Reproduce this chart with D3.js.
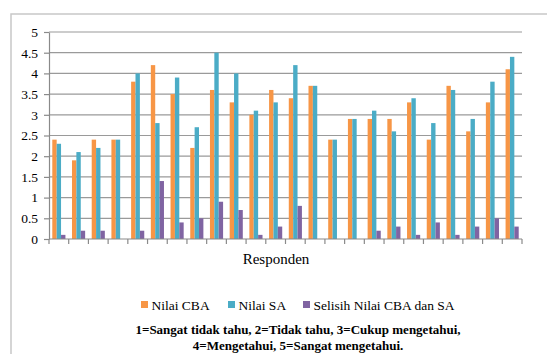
<!DOCTYPE html>
<html>
<head>
<meta charset="utf-8">
<script src="https://cdn.jsdelivr.net/npm/d3@7/dist/d3.min.js"></script>
<style>
  html, body { margin: 0; padding: 0; background: #fff; }
  svg { display: block; }
  text { font-family: "Liberation Serif", "Times New Roman", serif; fill: #000; }
</style>
</head>
<body>
<svg id="chart" width="547" height="354"></svg>
<script>
// Respondent numbers (x categories)
const respondents = d3.range(1, 25);

// Scores per respondent
const nilaiCBA = [2.4, 1.9, 2.4, 2.4, 3.8, 4.2, 3.5, 2.2, 3.6, 3.3, 3.0, 3.6,
                  3.4, 3.7, 2.4, 2.9, 2.9, 2.9, 3.3, 2.4, 3.7, 2.6, 3.3, 4.1];
const nilaiSA  = [2.3, 2.1, 2.2, 2.4, 4.0, 2.8, 3.9, 2.7, 4.5, 4.0, 3.1, 3.3,
                  4.2, 3.7, 2.4, 2.9, 3.1, 2.6, 3.4, 2.8, 3.6, 2.9, 3.8, 4.4];
const selisih  = [0.1, 0.2, 0.2, 0.0, 0.2, 1.4, 0.4, 0.5, 0.9, 0.7, 0.1, 0.3,
                  0.8, 0.0, 0.0, 0.0, 0.2, 0.3, 0.1, 0.4, 0.1, 0.3, 0.5, 0.3];

const seriesNames = ["Nilai CBA", "Nilai SA", "Selisih Nilai CBA dan SA"];
const seriesValues = [nilaiCBA, nilaiSA, selisih];
const seriesColors = ["#F79646", "#4BACC6", "#8064A2"];

const yTicks = d3.range(0, 5.01, 0.5);
const yTickLabels = ["0", "0.5", "1", "1.5", "2", "2.5", "3", "3.5", "4", "4.5", "5"];

const xTitle = "Responden";
const noteLines = [
  "1=Sangat tidak tahu, 2=Tidak tahu, 3=Cukup mengetahui,",
  "4=Mengetahui, 5=Sangat mengetahui."
];

const svg = d3.select("#chart");

// chart frame
svg.append("rect")
  .attr("x", 11).attr("y", 14)
  .attr("width", 560).attr("height", 360)
  .attr("fill", "#fff")
  .attr("stroke", "#c8c8c8").attr("stroke-width", 1.5);

const plot = { left: 49, right: 522, top: 32, bottom: 239 };

const y = d3.scaleLinear().domain([0, 5]).range([plot.bottom, plot.top]);

const x0 = d3.scaleBand()
  .domain(respondents)
  .range([plot.left, plot.right])
  .paddingInner(1 / 3)
  .paddingOuter(1 / 6);

const x1 = d3.scaleBand()
  .domain(d3.range(seriesNames.length))
  .range([0, x0.bandwidth()]);

// gridlines
svg.append("g")
  .selectAll("line")
  .data(yTicks.slice(1))
  .join("line")
  .attr("x1", plot.left).attr("x2", plot.right)
  .attr("y1", d => y(d)).attr("y2", d => y(d))
  .attr("stroke", "#9a9a9a").attr("stroke-width", 1.2);

// bars
const rows = respondents.map((r, i) => ({ r, vals: seriesValues.map(s => s[i]) }));
svg.append("g")
  .selectAll("g")
  .data(rows)
  .join("g")
  .attr("transform", d => `translate(${x0(d.r)},0)`)
  .selectAll("rect")
  .data(d => d.vals.map((v, k) => ({ v, k })))
  .join("rect")
  .attr("x", d => x1(d.k))
  .attr("width", x1.bandwidth())
  .attr("y", d => y(d.v))
  .attr("height", d => y(0) - y(d.v))
  .attr("fill", d => seriesColors[d.k]);

// y axis
const yAxis = svg.append("g")
  .attr("transform", `translate(${plot.left},0)`)
  .call(d3.axisLeft(y)
    .tickValues(yTicks)
    .tickFormat((d, i) => yTickLabels[i])
    .tickSize(5)
    .tickSizeOuter(0)
    .tickPadding(6));
yAxis.select(".domain").attr("stroke", "#8a8a8a").attr("stroke-width", 1.2);
yAxis.selectAll(".tick line").attr("stroke", "#8a8a8a").attr("stroke-width", 1.2);
yAxis.selectAll(".tick text")
  .style("font-family", "'Liberation Serif', serif")
  .style("font-size", "13.5px");

// x axis line and category separators
const step = x0.step();
const edgeStart = plot.left;
const sepPositions = d3.range(respondents.length + 1).map(i => edgeStart + i * step);
svg.append("line")
  .attr("x1", plot.left).attr("x2", plot.right)
  .attr("y1", plot.bottom).attr("y2", plot.bottom)
  .attr("stroke", "#8a8a8a").attr("stroke-width", 1.2);
svg.append("g")
  .selectAll("line")
  .data(sepPositions)
  .join("line")
  .attr("x1", d => d).attr("x2", d => d)
  .attr("y1", plot.bottom).attr("y2", plot.bottom + 5)
  .attr("stroke", "#8a8a8a").attr("stroke-width", 1.2);

// axis title
svg.append("text")
  .attr("x", 276).attr("y", 264)
  .attr("text-anchor", "middle")
  .style("font-size", "15px")
  .text(xTitle);

// legend
const legendX = [141, 228, 303];
const legend = svg.append("g")
  .selectAll("g")
  .data(seriesNames)
  .join("g")
  .attr("transform", (d, i) => `translate(${legendX[i]},305)`);
legend.append("rect")
  .attr("x", 0).attr("y", -4)
  .attr("width", 7).attr("height", 7)
  .attr("fill", (d, i) => seriesColors[i]);
legend.append("text")
  .attr("x", 10.5).attr("y", 4.5)
  .style("font-size", "13.5px")
  .text(d => d);

// scale note
svg.append("g")
  .selectAll("text")
  .data(noteLines)
  .join("text")
  .attr("x", 298)
  .attr("y", (d, i) => 334 + i * 16)
  .attr("text-anchor", "middle")
  .style("font-size", "13px")
  .style("font-weight", "bold")
  .text(d => d);
</script>
</body>
</html>
